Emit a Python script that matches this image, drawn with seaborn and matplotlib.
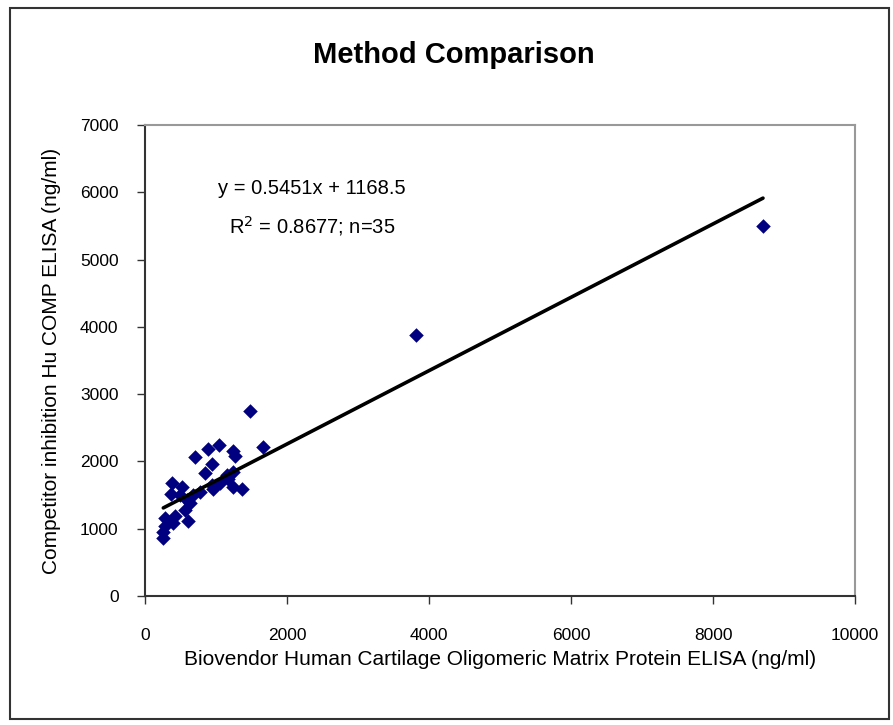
import numpy as np
import pandas as pd
import matplotlib
matplotlib.use("Agg")
import matplotlib.pyplot as plt
import seaborn as sns
from matplotlib.patches import Rectangle

# values (ng/ml)
biovendor = [1046, 883, 1235, 1268, 704, 939, 845, 1244, 1173, 376,
             517, 962, 1235, 1362, 362, 944, 680, 775, 587, 634,
             282, 423, 399, 610, 258, 258, 1151, 1479, 1662, 3817,
             8704, 493, 282, 563, 1056]
competitor = [2244, 2180, 2159, 2080, 2061, 1962, 1828, 1847, 1734, 1684,
              1624, 1586, 1624, 1586, 1516, 1650, 1501, 1550, 1427, 1378,
              1155, 1189, 1080, 1115, 956, 857, 1798, 2749, 2214, 3879,
              5498, 1500, 1040, 1278, 1680]

slope = 0.5451
intercept = 1168.5
r_squared = 0.8677

x_ticks = [0, 2000, 4000, 6000, 8000, 10000]
y_ticks = [0, 1000, 2000, 3000, 4000, 5000, 6000, 7000]

df = pd.DataFrame({"x": biovendor, "y": competitor})

sns.set_style("white")
plt.rcParams["font.family"] = ["Liberation Sans", "DejaVu Sans"]
plt.rcParams["text.color"] = "black"
plt.rcParams["axes.labelcolor"] = "black"
plt.rcParams["xtick.color"] = "black"
plt.rcParams["ytick.color"] = "black"

fig = plt.figure(figsize=(8.93, 7.25), dpi=100)
ax = fig.add_axes([145 / 893, 1 - 596 / 725, 710 / 893, 471 / 725])

# outer frame of the chart area
fig.patches.append(Rectangle((10 / 893, 6 / 725), 879 / 893, 711 / 725,
                             transform=fig.transFigure, fill=False,
                             edgecolor="#333333", linewidth=1.5))

sns.scatterplot(data=df, x="x", y="y", marker="D", s=55, color="#000080",
                edgecolor="#000080", linewidth=0, ax=ax, zorder=3)

line_x = np.array([min(biovendor), max(biovendor)])
ax.plot(line_x, slope * line_x + intercept, color="black", linewidth=2.6, zorder=4)

ax.set_xlim(0, 10000)
ax.set_ylim(0, 7000)
ax.set_xticks(x_ticks)
ax.set_yticks(y_ticks)
ax.tick_params(axis="both", direction="out", length=6, width=1, color="#333333",
               labelsize=12.5, bottom=True, left=True)
ax.tick_params(axis="y", pad=13)
ax.tick_params(axis="x", pad=17)

for side in ["top", "right"]:
    ax.spines[side].set_color("#999999")
    ax.spines[side].set_linewidth(1.5)
for side in ["left", "bottom"]:
    ax.spines[side].set_color("#333333")
    ax.spines[side].set_linewidth(1.5)

ax.set_xlabel("Biovendor Human Cartilage Oligomeric Matrix Protein ELISA (ng/ml)",
              fontsize=15, labelpad=5)
ax.set_ylabel("Competitor inhibition Hu COMP ELISA (ng/ml)", fontsize=15, labelpad=14)

fig.text(454 / 893, 1 - 55 / 725, "Method Comparison", ha="center", va="center",
         fontsize=21, fontweight="bold")

ax.text(2350, 6050, "y = 0.5451x + 1168.5", ha="center", va="center", fontsize=14.5)
ax.text(2350, 5500, "R$^2$ = %.4f; n=%d" % (r_squared, len(biovendor)),
        ha="center", va="center", fontsize=14.5)

fig.savefig("out.png", dpi=100)
